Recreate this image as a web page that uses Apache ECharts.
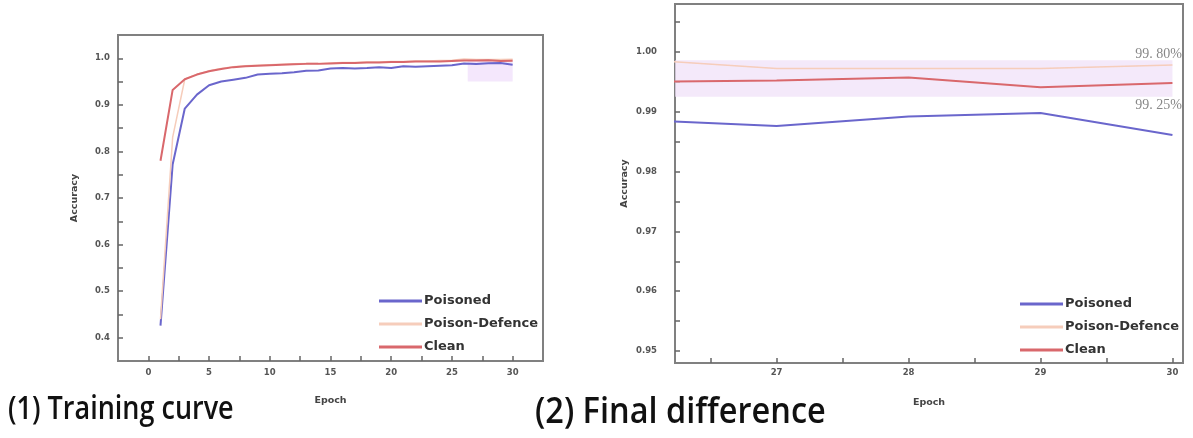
<!DOCTYPE html>
<html><head><meta charset="utf-8">
<script src="https://cdn.jsdelivr.net/npm/echarts@6/dist/echarts.min.js"></script>
<style>html,body{margin:0;padding:0;background:#fff}#c{width:1193px;height:438px}</style>
</head><body><div id="c"></div>
<script>
const epochs = [1,2,3,4,5,6,7,8,9,10,11,12,13,14,15,16,17,18,19,20,21,22,23,24,25,26,27,28,29,30];
const poisoned = [0.426,0.772,0.892,0.922,0.942,0.950,0.954,0.958,0.965,0.967,0.968,0.970,0.973,0.974,0.978,0.979,0.978,0.979,0.981,0.979,0.983,0.982,0.983,0.984,0.985,0.9886,0.9876,0.9892,0.9898,0.9861];
const defence = [0.44,0.83,0.955,0.966,0.973,0.978,0.982,0.984,0.985,0.986,0.987,0.988,0.989,0.989,0.990,0.991,0.991,0.992,0.992,0.993,0.993,0.994,0.994,0.995,0.996,0.9987,0.9972,0.9972,0.9972,0.9978];
const clean = [0.780,0.932,0.955,0.965,0.972,0.977,0.981,0.983,0.984,0.985,0.986,0.987,0.988,0.988,0.989,0.990,0.990,0.991,0.991,0.992,0.992,0.993,0.993,0.993,0.994,0.9950,0.9952,0.9957,0.9941,0.9948];
const seriesNames = ['Poisoned','Poison-Defence','Clean'];
const leftXTicks = [0,5,10,15,20,25,30];
const leftXMinor = [0,2.5,5,7.5,10,12.5,15,17.5,20,22.5,25,27.5,30];
const leftYTicks = [0.4,0.5,0.6,0.7,0.8,0.9,1.0];
const leftYMinor = [0.4,0.45,0.5,0.55,0.6,0.65,0.7,0.75,0.8,0.85,0.9,0.95,1.0];
const rightXTicks = [27,28,29,30];
const rightXMinor = [26.5,27,27.5,28,28.5,29,29.5,30];
const rightYTicks = [0.95,0.96,0.97,0.98,0.99,1.00];
const rightYMinor = [0.95,0.955,0.96,0.965,0.97,0.975,0.98,0.985,0.99,0.995,1.00,1.005];
const band = [0.9925, 0.9986];
const bandLabels = ['99. 80%', '99. 25%'];
const zoomBox = [[26.3, 0.95], [30, 0.998]];
const panelTitles = ['(1) Training curve', '(2) Final difference'];

const colors = ['#6a66cc', '#f6cdbb', '#d9686c'];
const pairs = arr => epochs.map((e, i) => [e, arr[i]]);
const dataSets = [poisoned, defence, clean];
const lw = [2, 1.5, 2];
const tickFont = {fontFamily: 'DejaVu Sans', fontWeight: 'bold', fontSize: 8.5, color: '#555'};
const nameFont = {fontFamily: 'DejaVu Sans', fontWeight: 'bold', fontSize: 9.5, color: '#444'};
const frameLine = {show: true, onZero: false, lineStyle: {color: '#808080', width: 2}};

function xAxis(gi, min, max, ticks, minor, margin, gap) {
  return {type: 'value', gridIndex: gi, min, max, name: 'Epoch', nameLocation: 'middle', nameGap: gap,
    nameTextStyle: nameFont, position: 'bottom',
    axisLine: frameLine, splitLine: {show: false},
    axisTick: {show: true, inside: true, length: 5, customValues: minor, lineStyle: {color: '#666', width: 1.5}},
    axisLabel: Object.assign({customValues: ticks, margin, formatter: v => String(v)}, tickFont)};
}
function yAxis(gi, min, max, ticks, minor, margin, gap, fmt) {
  return {type: 'value', gridIndex: gi, min, max, name: 'Accuracy', nameLocation: 'middle', nameGap: gap, nameRotate: 90,
    nameTextStyle: nameFont, position: 'left',
    axisLine: frameLine, splitLine: {show: false},
    axisTick: {show: true, inside: true, length: 5, customValues: minor, lineStyle: {color: '#666', width: 1.5}},
    axisLabel: Object.assign({customValues: ticks, margin, formatter: fmt}, tickFont)};
}

const series = [];
seriesNames.forEach((n, i) => {
  series.push({name: n, type: 'line', xAxisIndex: 0, yAxisIndex: 0, data: pairs(dataSets[i]), showSymbol: false,
    lineStyle: {color: colors[i], width: lw[i]}, itemStyle: {color: colors[i]}, z: 3 + i,
    markArea: i === 0 ? {silent: true, itemStyle: {color: 'rgba(236,215,250,0.6)'}, data: [[{coord: zoomBox[0]}, {coord: zoomBox[1]}]]} : undefined});
});
seriesNames.forEach((n, i) => {
  series.push({name: n, type: 'line', xAxisIndex: 1, yAxisIndex: 1, data: pairs(dataSets[i]).slice(25), showSymbol: false,
    lineStyle: {color: colors[i], width: lw[i]}, itemStyle: {color: colors[i]}, z: 3 + i,
    markArea: i === 0 ? {silent: true, itemStyle: {color: 'rgba(240,224,248,0.7)'}, data: [[{xAxis: 26.23, yAxis: band[0]}, {xAxis: 30, yAxis: band[1]}]]} : undefined});
});

const chart = echarts.init(document.getElementById('c'));
const legendBase = {orient: 'vertical', icon: 'rect', itemWidth: 43, itemHeight: 3, itemGap: 9, data: seriesNames,
  textStyle: {fontFamily: 'DejaVu Sans', fontWeight: 'bold', fontSize: 13, color: '#333', lineHeight: 14, padding: [0,0,0,-3]}};
chart.setOption({
  animation: false,
  grid: [
    {left: 118, top: 35, width: 425, height: 326, show: true, borderColor: '#808080', borderWidth: 2},
    {left: 675, top: 4, width: 508, height: 359, show: true, borderColor: '#808080', borderWidth: 2}
  ],
  xAxis: [xAxis(0, -2.5, 32.5, leftXTicks, leftXMinor, 7, 35), xAxis(1, 26.23, 30.08, rightXTicks, rightXMinor, 5, 35)],
  yAxis: [yAxis(0, 0.35, 1.05, leftYTicks, leftYMinor, 8, 38, v => v.toFixed(1)), yAxis(1, 0.948, 1.008, rightYTicks, rightYMinor, 18, 45, v => v.toFixed(2))],
  legend: [
    Object.assign({}, legendBase, {left: 374, top: 289}),
    Object.assign({}, legendBase, {left: 1015, top: 292})
  ],
  series: series
});
const p1 = chart.convertToPixel({xAxisIndex: 1, yAxisIndex: 1}, [30.08, band[1]]);
const p2 = chart.convertToPixel({xAxisIndex: 1, yAxisIndex: 1}, [30.08, band[0]]);
chart.setOption({graphic: [
  {type: 'text', x: 8, y: 410, scaleY: 1.18, style: {text: panelTitles[0], verticalAlign: 'middle', fontFamily: 'Open Sans', fontSize: 27, fontWeight: 600, fill: '#111'}},
  {type: 'text', x: 535, y: 413, scaleY: 1.12, style: {text: panelTitles[1], verticalAlign: 'middle', fontFamily: 'Open Sans', fontSize: 32.5, fontWeight: 600, fill: '#111'}},
  {type: 'text', x: p1[0] - 1, y: p1[1] + 1, style: {text: bandLabels[0], align: 'right', verticalAlign: 'bottom', fontFamily: 'Liberation Serif', fontSize: 14, fill: '#888'}},
  {type: 'text', x: p2[0] - 1, y: p2[1] + 2, style: {text: bandLabels[1], align: 'right', verticalAlign: 'top', fontFamily: 'Liberation Serif', fontSize: 14, fill: '#888'}}
]});
</script></body></html>
